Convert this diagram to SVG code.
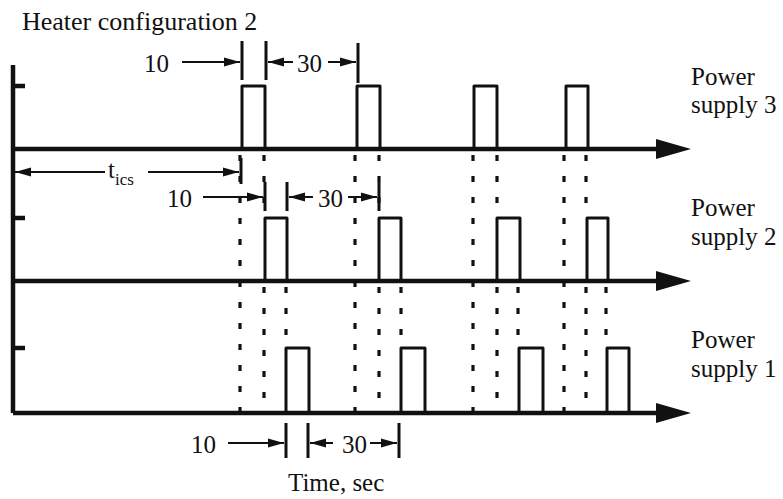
<svg xmlns="http://www.w3.org/2000/svg" width="783" height="499" viewBox="0 0 783 499">
  <defs>
    <style>
      .txt { font-family: "Liberation Serif", "Times New Roman", serif; font-size: 25px; fill: #111; }
      .title { font-size: 26px; }
      .sub { font-size: 17px; }
      .axis { stroke: #111; stroke-width: 4.5; fill: none; }
      .pulse { stroke: #111; stroke-width: 3; fill: none; stroke-linejoin: round; }
      .guide { stroke: #111; stroke-width: 3.2; stroke-dasharray: 6 15; fill: none; }
      .dim { stroke: #111; stroke-width: 2; fill: none; }
      .tick { stroke: #111; stroke-width: 3; fill: none; }
    </style>
    <marker id="axisHead" markerUnits="userSpaceOnUse" markerWidth="36" markerHeight="22" refX="0" refY="11" orient="auto">
      <path d="M0,1 L35,11 L0,21 z" fill="#111"/>
    </marker>
    <marker id="dimHead" markerUnits="userSpaceOnUse" markerWidth="17" markerHeight="10" refX="16" refY="5" orient="auto-start-reverse">
      <path d="M0,0.5 L16,5 L0,9.5 z" fill="#111"/>
    </marker>
  </defs>

  <rect width="783" height="499" fill="#fff"/>

  <text class="txt title" x="22" y="30">Heater configuration 2</text>

  <!-- time axes -->
  <g id="axes">
    <path class="axis" d="M13,65 V413"/>
    <path class="axis" d="M13,86 H25 M13,218 H25 M13,348 H25"/>
    <path class="axis" d="M13,149 H656" marker-end="url(#axisHead)"/>
    <path class="axis" d="M13,281 H656" marker-end="url(#axisHead)"/>
    <path class="axis" d="M13,413 H656" marker-end="url(#axisHead)"/>
  </g>

  <!-- power supply 3 pulses -->
  <g id="ps3">
    <path class="pulse" d="M242,149 V86 H265 V149"/>
    <path class="pulse" d="M357,149 V86 H380 V149"/>
    <path class="pulse" d="M474,149 V86 H497 V149"/>
    <path class="pulse" d="M566,149 V86 H588 V149"/>
    <text class="txt" x="691" y="85">Power</text>
    <text class="txt" x="691" y="113">supply 3</text>
  </g>

  <!-- power supply 2 pulses -->
  <g id="ps2">
    <path class="pulse" d="M265,281 V218 H287 V281"/>
    <path class="pulse" d="M379,281 V218 H401 V281"/>
    <path class="pulse" d="M497,281 V218 H520 V281"/>
    <path class="pulse" d="M587,281 V218 H608 V281"/>
    <text class="txt" x="691" y="216">Power</text>
    <text class="txt" x="691" y="245">supply 2</text>
  </g>

  <!-- power supply 1 pulses -->
  <g id="ps1">
    <path class="pulse" d="M286,413 V348 H309 V413"/>
    <path class="pulse" d="M401,413 V348 H425 V413"/>
    <path class="pulse" d="M519,413 V348 H543 V413"/>
    <path class="pulse" d="M607,413 V348 H629 V413"/>
    <text class="txt" x="691" y="348">Power</text>
    <text class="txt" x="691" y="377">supply 1</text>
  </g>

  <!-- dotted alignment lines between the pulse edges -->
  <g id="guides">
    <path class="guide" d="M240,155 V411 M264,155 V216 M264,287 V411 M286,287 V346"/>
    <path class="guide" d="M355,155 V411 M379,155 V216 M379,287 V411 M401,287 V346"/>
    <path class="guide" d="M473,155 V411 M497,155 V216 M497,287 V411 M518,287 V346"/>
    <path class="guide" d="M564,155 V411 M586,155 V216 M586,287 V411 M606,287 V346"/>
  </g>

  <!-- timing dimensions -->
  <g id="dimensions">
    <!-- top row -->
    <path class="tick" d="M242,41 V80 M266,41 V80 M358,43 V83"/>
    <path class="dim" d="M182,62 H240" marker-end="url(#dimHead)"/>
    <path class="dim" d="M293,62 H268" marker-end="url(#dimHead)"/>
    <path class="dim" d="M328,62 H356" marker-end="url(#dimHead)"/>
    <text class="txt" x="144" y="72">10</text>
    <text class="txt" x="297" y="72">30</text>

    <!-- initial delay -->
    <path class="tick" d="M241,158 V184"/>
    <path class="dim" d="M105,172 H15" marker-end="url(#dimHead)"/>
    <path class="dim" d="M148,172 H239" marker-end="url(#dimHead)"/>
    <text class="txt" x="108" y="178">t<tspan class="sub" dy="7">ics</tspan></text>

    <!-- middle row -->
    <path class="tick" d="M265,182 V211 M287,182 V211 M379,182 V211"/>
    <path class="dim" d="M203,197 H263" marker-end="url(#dimHead)"/>
    <path class="dim" d="M313,197 H289" marker-end="url(#dimHead)"/>
    <path class="dim" d="M348,197 H377" marker-end="url(#dimHead)"/>
    <text class="txt" x="167" y="207">10</text>
    <text class="txt" x="318" y="207">30</text>

    <!-- bottom row -->
    <path class="tick" d="M286,423 V458 M308,423 V458 M399,423 V458"/>
    <path class="dim" d="M228,443 H284" marker-end="url(#dimHead)"/>
    <path class="dim" d="M333,443 H310" marker-end="url(#dimHead)"/>
    <path class="dim" d="M370,443 H397" marker-end="url(#dimHead)"/>
    <text class="txt" x="191" y="453">10</text>
    <text class="txt" x="342" y="453">30</text>

    <text class="txt" x="288" y="491">Time, sec</text>
  </g>
</svg>
